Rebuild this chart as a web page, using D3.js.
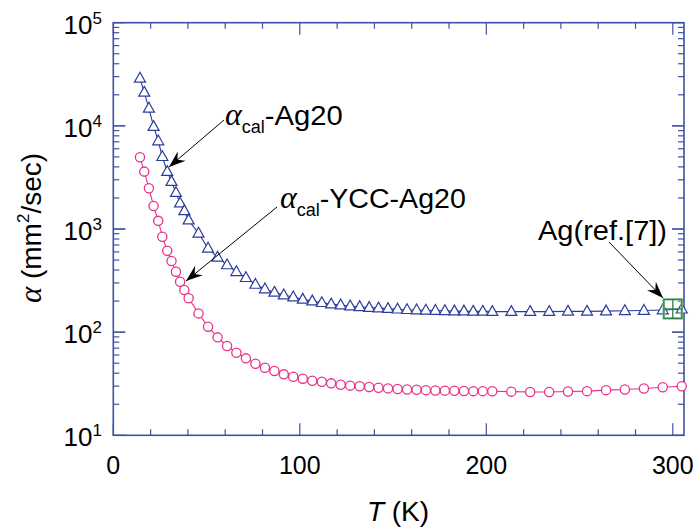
<!DOCTYPE html>
<html>
<head>
<meta charset="utf-8">
<script src="https://cdn.jsdelivr.net/npm/d3@7"></script>
<style>
  body { margin: 0; background: #fff; }
  svg { display: block; font-family: "Liberation Sans", Arial, Helvetica, sans-serif; }
</style>
</head>
<body>
<div class="canvas"></div>
<script>
var w = 695;
var h = 532;

// temperatures (K) as placed in the figure
var temps = [14.3, 16.6, 19.1, 21.6, 24.1, 26.3, 28.9, 31.2, 33.6, 35.8, 38.1, 40.4,
    45.7, 50.8, 55.9, 61.0, 66.0, 71.1, 76.2, 81.3, 86.4, 91.4, 96.5, 101.6, 106.7, 111.8,
    116.8, 121.9, 127.0, 132.1, 137.2, 142.2, 147.3, 152.4, 157.5, 162.6, 167.6, 172.7,
    177.8, 182.9, 188.0, 193.0, 198.1, 203.2,
    213.4, 223.5, 233.7, 243.8, 254.0, 264.2, 274.3, 284.5, 294.6, 304.8];

// alpha_cal - Ag20 (triangles)
var alphaAg20 = [28900, 21100, 14800, 9820, 7130, 5020, 3600, 2880, 2250, 1780, 1500, 1220,
    908, 650, 532, 448, 385, 337, 290, 262, 243, 229, 219, 208, 200, 193, 187, 183,
    179, 176, 173, 171, 169, 167, 165, 164, 163, 162, 161, 160, 160, 159, 159, 158,
    158, 158, 158, 159, 159, 160, 161, 162, 164, 167];

// alpha_cal - YCC-Ag20 (circles)
var alphaYCC = [4955, 3600, 2480, 1670, 1200, 842, 616, 489, 385, 308, 256, 213,
    152, 113, 89, 73.4, 63.2, 55.7, 49.4, 45.2, 42.0, 39.0, 37.0, 35.4, 33.8, 33.1, 31.9, 30.9,
    30.3, 29.9, 29.4, 28.9, 28.5, 28.1, 27.8, 27.6, 27.4, 27.2, 27.1, 27.0, 26.9, 26.8, 26.8, 26.7,
    26.5, 26.3, 26.3, 26.6, 26.8, 27.4, 27.8, 28.4, 29.2, 29.9];

// Ag reference value
var refT = [300];
var refAlpha = [168];

var xTicks = [0, 100, 200, 300];
var yTicks = [1e1, 1e2, 1e3, 1e4, 1e5];

var axisColor = "#3f50a6";
var blue = "#2c3d9b";
var pink = "#e8318a";
var green = "#2f7e48";

var pLeft = 113.3, pRight = 684, pTop = 22.7, pBottom = 435.3;

var xScale = d3.scaleLinear().domain([0, 306]).range([pLeft, pRight]);
var yScale = d3.scaleLog().domain([10, 1e5]).range([pBottom, pTop]);

var svg = d3.select(".canvas").append("svg")
    .attr("width", w)
    .attr("height", h);

var defs = svg.append("defs");
defs.append("marker")
    .attr("id", "arrow")
    .attr("markerUnits", "userSpaceOnUse")
    .attr("markerWidth", 20).attr("markerHeight", 20)
    .attr("refX", 0).attr("refY", 0)
    .attr("viewBox", "-16 -8 18 16")
    .attr("orient", "auto")
    .append("path")
    .attr("d", "M0,0 L-15,-5.5 L-10,0 L-15,5.5 Z")
    .attr("fill", "#000");

// frame
svg.append("rect")
    .attr("x", pLeft).attr("y", pTop)
    .attr("width", pRight - pLeft).attr("height", pBottom - pTop)
    .attr("fill", "none").attr("stroke", axisColor).attr("stroke-width", 1.6);

// x ticks (bottom and top, inward)
var xMinor = d3.range(0, 306, 20);
xMinor.forEach(function (t) {
    var len = (t % 100 === 0) ? 12 : 6;
    var px = xScale(t);
    svg.append("line").attr("x1", px).attr("x2", px).attr("y1", pBottom).attr("y2", pBottom - len)
        .attr("stroke", axisColor).attr("stroke-width", 1.2);
    svg.append("line").attr("x1", px).attr("x2", px).attr("y1", pTop).attr("y2", pTop + len)
        .attr("stroke", axisColor).attr("stroke-width", 1.2);
});

// y ticks (left and right, inward)
for (var d = 1; d <= 4; d++) {
    for (var m = 1; m <= 10; m++) {
        var v = m * Math.pow(10, d);
        var len = (m === 1 || m === 10) ? 12 : 6;
        var py = yScale(v);
        svg.append("line").attr("x1", pLeft).attr("x2", pLeft + len).attr("y1", py).attr("y2", py)
            .attr("stroke", axisColor).attr("stroke-width", 1.2);
        svg.append("line").attr("x1", pRight).attr("x2", pRight - len).attr("y1", py).attr("y2", py)
            .attr("stroke", axisColor).attr("stroke-width", 1.2);
    }
}

// tick labels
svg.selectAll(".xlab").data(xTicks).enter().append("text")
    .attr("class", "xlab")
    .attr("x", function (d) { return xScale(d); })
    .attr("y", 474)
    .attr("text-anchor", "middle")
    .attr("font-size", 25)
    .text(function (d) { return d; });

var ylab = svg.selectAll(".ylab").data(yTicks).enter().append("text")
    .attr("class", "ylab")
    .attr("x", 102)
    .attr("y", function (d) { return yScale(d) + 11; })
    .attr("text-anchor", "end")
    .attr("font-size", 26);
ylab.append("tspan").text("10");
ylab.append("tspan").attr("font-size", 17).attr("dy", -10)
    .text(function (d) { return Math.round(Math.log10(d)); });

// axis titles
var xt = svg.append("text").attr("x", 398).attr("y", 521)
    .attr("text-anchor", "middle").attr("font-size", 28);
xt.append("tspan").attr("font-style", "italic").text("T");
xt.append("tspan").text(" (K)");

var yt = svg.append("text")
    .attr("transform", "translate(41,228) rotate(-90)")
    .attr("text-anchor", "middle").attr("font-size", 28);
yt.append("tspan").attr("font-family", "Liberation Serif, serif").attr("font-style", "italic")
    .attr("font-size", 31).text("\u03b1");
yt.append("tspan").text(" (mm");
yt.append("tspan").attr("font-size", 17).attr("dy", -12).text("2");
yt.append("tspan").attr("dy", 12).text("/sec)");

// data
var pts = temps.map(function (t, i) { return { t: t, a: alphaAg20[i], c: alphaYCC[i] }; });

var lineA = d3.line().x(function (d) { return xScale(d.t); }).y(function (d) { return yScale(d.a); });
var lineC = d3.line().x(function (d) { return xScale(d.t); }).y(function (d) { return yScale(d.c); });

svg.append("path").datum(pts).attr("d", lineC)
    .attr("fill", "none").attr("stroke", pink).attr("stroke-width", 1.1);
svg.append("path").datum(pts).attr("d", lineA)
    .attr("fill", "none").attr("stroke", blue).attr("stroke-width", 1.1);

svg.selectAll(".circ").data(pts).enter().append("circle")
    .attr("class", "circ")
    .attr("cx", function (d) { return xScale(d.t); })
    .attr("cy", function (d) { return yScale(d.c); })
    .attr("r", 4.6)
    .attr("fill", "#fff").attr("stroke", pink).attr("stroke-width", 1.3);

svg.selectAll(".tri").data(pts).enter().append("path")
    .attr("class", "tri")
    .attr("transform", function (d) { return "translate(" + xScale(d.t) + "," + yScale(d.a) + ")"; })
    .attr("d", "M0,-6 L5.5,3.8 L-5.5,3.8 Z")
    .attr("fill", "#fff").attr("stroke", blue).attr("stroke-width", 1.2);

// Ag reference marker: square with cross
var ref = svg.selectAll(".ref").data(refT).enter().append("g")
    .attr("class", "ref")
    .attr("transform", function (d, i) { return "translate(" + xScale(d) + "," + yScale(refAlpha[i]) + ")"; });
ref.append("rect").attr("x", -9).attr("y", -9.5).attr("width", 18).attr("height", 19)
    .attr("fill", "none").attr("stroke", "#8cc49a").attr("stroke-width", 2.6);
ref.append("rect").attr("x", -9).attr("y", -9.5).attr("width", 18).attr("height", 19)
    .attr("fill", "none").attr("stroke", green).attr("stroke-width", 1.1);
ref.append("line").attr("x1", 0).attr("x2", 0).attr("y1", -9.5).attr("y2", 9.5)
    .attr("stroke", green).attr("stroke-width", 1.3);
ref.append("line").attr("x1", -9).attr("x2", 9).attr("y1", 0).attr("y2", 0)
    .attr("stroke", green).attr("stroke-width", 1.3);

// annotations
function arrow(x1, y1, x2, y2) {
    svg.append("line")
        .attr("x1", x1).attr("y1", y1).attr("x2", x2).attr("y2", y2)
        .attr("stroke", "#000").attr("stroke-width", 1)
        .attr("marker-end", "url(#arrow)");
}
arrow(224, 120, 169, 167);
arrow(277, 207, 186, 281);
arrow(609, 242, 663, 298);

function alphaLabel(x, y, rest, restLen) {
    var t = svg.append("text").attr("x", x).attr("y", y).attr("font-size", 27);
    t.append("tspan").attr("font-family", "Liberation Serif, serif").attr("font-style", "italic")
        .attr("font-size", 32).text("\u03b1");
    t.append("tspan").attr("font-size", 18).attr("dy", 8).text("cal");
    t.append("tspan").attr("dy", -8).attr("textLength", restLen).attr("lengthAdjust", "spacingAndGlyphs").text(rest);
}
alphaLabel(225, 125, "-Ag20", 78);
alphaLabel(280, 208, "-YCC-Ag20", 146);

svg.append("text").attr("x", 538).attr("y", 240).attr("font-size", 27)
    .attr("textLength", 129).attr("lengthAdjust", "spacingAndGlyphs")
    .text("Ag(ref.[7])");
</script>
</body>
</html>
